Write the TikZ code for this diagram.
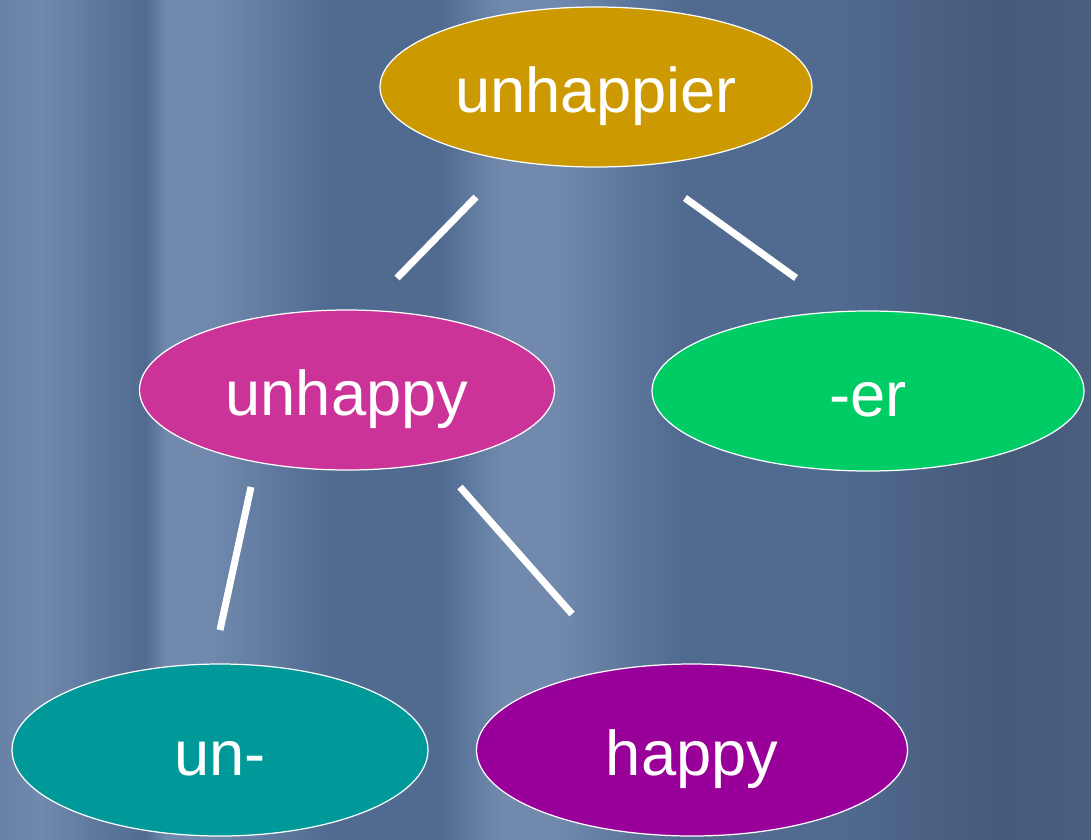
\documentclass[tikz,border=0pt]{standalone}
\usepackage{fontspec}
\setmainfont{Liberation Sans}
\usetikzlibrary{shapes.geometric}

\newdimen\px
\px=0.02cm

\definecolor{bgmid}{HTML}{667FA4}
\definecolor{bglight}{HTML}{7089AD}
\definecolor{bgdark}{HTML}{506A90}
\definecolor{bgdeep}{HTML}{465A7A}
\definecolor{bgend}{HTML}{4A5E80}
\definecolor{gold}{HTML}{CC9900}
\definecolor{pink}{HTML}{CC3399}
\definecolor{mint}{HTML}{00CC66}
\definecolor{teal}{HTML}{009999}
\definecolor{plum}{HTML}{990099}

\tikzset{
  morph/.style={ellipse, draw=white, line width=0.7pt, inner sep=0pt,
    text=white, font=\fontsize{36}{40}\selectfont,
    text height=28.6pt, text depth=0pt},
  branch/.style={draw=white, line width=4pt, line cap=butt},
}

\begin{document}
\begin{tikzpicture}[x=0.02cm, y=-0.02cm]
  \useasboundingbox (0,0) rectangle (1091,839);

  % striped backdrop
  \shade[left color=bgmid,   right color=bglight] (-5,-5)   rectangle (40.5,845);
  \shade[left color=bglight, right color=bgdark]  (40,-5)   rectangle (145.5,845);
  \shade[left color=bgdark,  right color=bglight] (145,-5)  rectangle (165.5,845);
  \fill[bglight]                                  (165,-5)  rectangle (210.5,845);
  \shade[left color=bglight, right color=bgdark]  (210,-5)  rectangle (330.5,845);
  \fill[bgdark]                                   (330,-5)  rectangle (440.5,845);
  \shade[left color=bgdark,  right color=bglight] (440,-5)  rectangle (500.5,845);
  \fill[bglight]                                  (500,-5)  rectangle (560.5,845);
  \shade[left color=bglight, right color=bgdark]  (560,-5)  rectangle (680.5,845);
  \fill[bgdark]                                   (680,-5)  rectangle (840.5,845);
  \shade[left color=bgdark,  right color=bgdeep]  (840,-5)  rectangle (1000.5,845);
  \shade[left color=bgdeep,  right color=bgend]   (1000,-5) rectangle (1096,845);

  % morpheme tree
  \node[morph, fill=gold, minimum width=432\px, minimum height=160\px] (root)  at (596,87)  {unhappier};
  \node[morph, fill=pink, minimum width=415\px, minimum height=160\px] (stem)  at (347,390) {unhappy};
  \node[morph, fill=mint, minimum width=432\px, minimum height=160\px] (suff)  at (868,391) {-er};
  \node[morph, fill=teal, minimum width=416\px, minimum height=172\px] (pref)  at (220,750) {un-};
  \node[morph, fill=plum, minimum width=431\px, minimum height=172\px] (base)  at (692,750) {happy};

  % branch end points
  \coordinate (rootL) at (476,197);
  \coordinate (stemT) at (397,278);
  \coordinate (rootR) at (685,198);
  \coordinate (suffT) at (796,278);
  \coordinate (stemL) at (251,487);
  \coordinate (prefT) at (220,630);
  \coordinate (stemR) at (460,487);
  \coordinate (baseT) at (572,614);

  \draw[branch] (rootL) -- (stemT);
  \draw[branch] (rootR) -- (suffT);
  \draw[branch] (stemL) -- (prefT);
  \draw[branch] (stemR) -- (baseT);
\end{tikzpicture}
\end{document}
